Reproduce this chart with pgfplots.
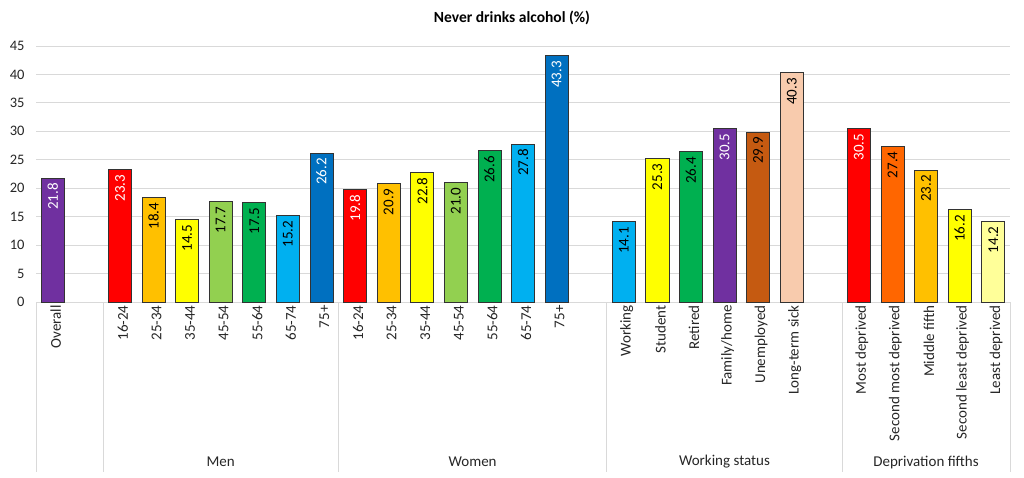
\documentclass[border=0pt]{standalone}
\usepackage{pgfplots}
\pgfplotsset{compat=1.18}
\usepackage{fontspec}
\setmainfont{Carlito}
\definecolor{cPurple}{HTML}{7030A0}
\definecolor{cRed}{HTML}{FF0000}
\definecolor{cGold}{HTML}{FFC000}
\definecolor{cYellow}{HTML}{FFFF00}
\definecolor{cLGreen}{HTML}{92D050}
\definecolor{cGreen}{HTML}{00B050}
\definecolor{cLBlue}{HTML}{00B0F0}
\definecolor{cBlue}{HTML}{0070C0}
\definecolor{cBrown}{HTML}{C55A11}
\definecolor{cPeach}{HTML}{F8CBAD}
\definecolor{cOrange}{HTML}{FF6600}
\definecolor{cLYellow}{HTML}{FFFF99}
\definecolor{cGrid}{HTML}{D9D9D9}
\definecolor{cText}{HTML}{262626}
\newcommand\mybar[4]{\addplot[ybar, bar width=23bp, bar shift=0pt, fill=#3, draw=black!80, line width=0.7bp, nodes near coords style={text=#4}] coordinates {(#1,#2)};}
\begin{document}
\begin{tikzpicture}
\begin{axis}[
  scale only axis,
  width=974bp, height=256bp,
  xmin=-0.5, xmax=28.5, ymin=0, ymax=45,
  ytick={0,5,...,45},
  xtick={0,2,3,4,5,6,7,8,9,10,11,12,13,14,15,17,18,19,20,21,22,24,25,26,27,28},
  xticklabels={Overall,16-24,25-34,35-44,45-54,55-64,65-74,75+,16-24,25-34,35-44,45-54,55-64,65-74,75+,Working,Student,Retired,Family/home,Unemployed,Long-term sick,Most deprived,Second most deprived,Middle fifth,Second least deprived,Least deprived},
  xticklabel style={rotate=90, anchor=east, yshift=-3bp, text=cText, font=\fontsize{15bp}{17bp}\selectfont},
  yticklabel style={xshift=-8bp, text=cText, font=\fontsize{14.5bp}{17bp}\selectfont},
  /pgf/number format/assume math mode=true,
  major tick length=0pt,
  axis lines*=left,
  axis line style={-},
  y axis line style={draw=none},
  x axis line style={draw=cGrid, line width=1bp},
  ymajorgrids,
  grid style={draw=cGrid, line width=1bp},
  clip=false,
  nodes near coords={\pgfmathprintnumber[fixed, fixed zerofill, precision=1]{\pgfplotspointmeta}},
  nodes near coords style={rotate=90, anchor=east, inner sep=5bp, font=\fontsize{15bp}{17bp}\selectfont},
]
\mybar{0}{21.8}{cPurple}{white}
\mybar{2}{23.3}{cRed}{white}
\mybar{3}{18.4}{cGold}{black}
\mybar{4}{14.5}{cYellow}{black}
\mybar{5}{17.7}{cLGreen}{black}
\mybar{6}{17.5}{cGreen}{black}
\mybar{7}{15.2}{cLBlue}{black}
\mybar{8}{26.2}{cBlue}{white}
\mybar{9}{19.8}{cRed}{white}
\mybar{10}{20.9}{cGold}{black}
\mybar{11}{22.8}{cYellow}{black}
\mybar{12}{21.0}{cLGreen}{black}
\mybar{13}{26.6}{cGreen}{black}
\mybar{14}{27.8}{cLBlue}{black}
\mybar{15}{43.3}{cBlue}{white}
\mybar{17}{14.1}{cLBlue}{black}
\mybar{18}{25.3}{cYellow}{black}
\mybar{19}{26.4}{cGreen}{black}
\mybar{20}{30.5}{cPurple}{white}
\mybar{21}{29.9}{cBrown}{black}
\mybar{22}{40.3}{cPeach}{black}
\mybar{24}{30.5}{cRed}{white}
\mybar{25}{27.4}{cOrange}{black}
\mybar{26}{23.2}{cGold}{black}
\mybar{27}{16.2}{cYellow}{black}
\mybar{28}{14.2}{cLYellow}{black}
\foreach \s in {-0.5,1.5,8.5,16.5,23.5,28.5} {
  \edef\tmp{\noexpand\draw[cGrid, line width=1bp] (axis cs:\s,0) -- ([yshift=-170bp]axis cs:\s,0);}
  \tmp
}
\node[text=cText, font=\fontsize{15bp}{17bp}\selectfont] at ([yshift=-160bp]axis cs:5,0) {Men};
\node[text=cText, font=\fontsize{15bp}{17bp}\selectfont] at ([yshift=-160bp]axis cs:12.5,0) {Women};
\node[text=cText, font=\fontsize{15bp}{17bp}\selectfont] at ([yshift=-160bp]axis cs:20,0) {Working status};
\node[text=cText, font=\fontsize{15bp}{17bp}\selectfont] at ([yshift=-160bp]axis cs:26,0) {Deprivation fifths};
\node[font=\bfseries\fontsize{15.5bp}{17bp}\selectfont] at ([xshift=-11bp, yshift=28bp]rel axis cs:0.5,1) {Never drinks alcohol (\%)};
\end{axis}
\pgfresetboundingbox
\path ([shift={(-36bp,-176bp)}]current axis.south west) rectangle ([shift={(14bp,46bp)}]current axis.north east);
\end{tikzpicture}
\end{document}
